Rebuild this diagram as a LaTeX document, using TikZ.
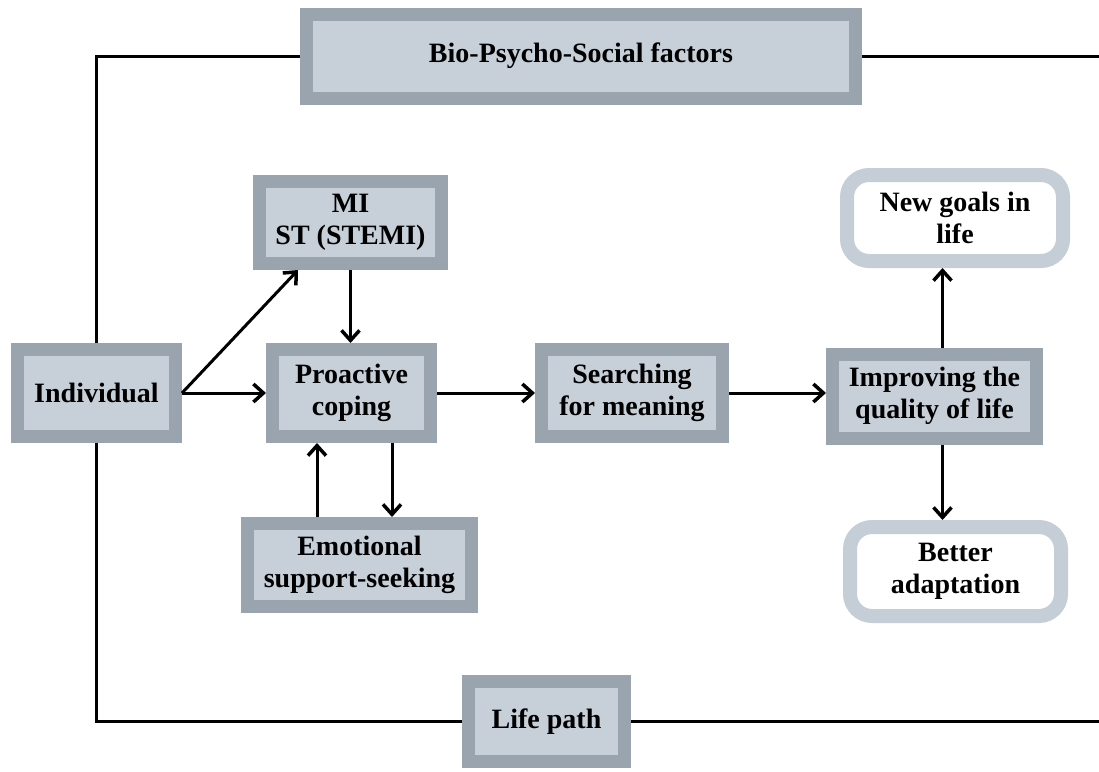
\documentclass[tikz,border=0pt]{standalone}
\usepackage{fontspec}
\setmainfont{Liberation Serif}
\usepackage{xcolor}
\usetikzlibrary{arrows.meta, positioning}
\definecolor{boxline}{HTML}{99A4AE}
\definecolor{boxfill}{HTML}{C7CFD8}
\definecolor{goalline}{HTML}{C5CDD6}

\begin{document}
\begin{tikzpicture}[
    x=1pt, y=1pt,
    box/.style={rectangle, draw=boxline, fill=boxfill, line width=13pt,
      outer sep=6.5pt, align=center, inner sep=0pt,
      font=\fontsize{28}{32}\selectfont\bfseries},
    goal/.style={rectangle, rounded corners=22pt, draw=goalline, fill=white,
      line width=14pt, outer sep=7pt, align=center, inner sep=0pt,
      font=\fontsize{28}{32}\selectfont\bfseries},
    link/.style={line width=3pt},
    arr/.style={link, -{Straight Barb[length=10pt, width=18pt, line width=3.5pt]}}
]
  \useasboundingbox (0,0) rectangle (1099,-771);

  % Boxes placed at their centres
  \node[box, minimum width=549, minimum height=84] (bio) at (581,-56) {Bio-Psycho-Social factors};
  \node[box, minimum width=158, minimum height=87] (indiv) at (96.5,-393) {Individual};
  \node[box, minimum width=182, minimum height=82] (mi) at (350.5,-222.5) {MI\\ST (STEMI)};
  \node[box, minimum width=158, minimum height=87] (proact) at (351.5,-393) {Proactive\\coping};
  \node[box, minimum width=181, minimum height=87] (search) at (632,-393) {Searching\\for meaning};
  \node[box, minimum width=204, minimum height=84] (improve) at (934.5,-396) {Improving the\\quality of life};
  \node[goal, minimum width=216, minimum height=86] (goals) at (955,-218) {New goals in\\life};
  \node[goal, minimum width=211, minimum height=89] (adapt) at (955.5,-571.5) {Better\\adaptation};
  \node[box, minimum width=224, minimum height=83] (emot) at (359.5,-565) {Emotional\\support-seeking};
  \node[box, minimum width=156, minimum height=80] (path) at (546.5,-721.5) {Life path};

  \coordinate (topend) at (1099,-56);
  \coordinate (botend) at (1099,-721.5);

  % Frame lines
  \draw[link] (indiv.north) |- (bio.west);
  \draw[link] (bio.east) -- (topend);
  \draw[link] (indiv.south) |- (path.west);
  \draw[link] (path.east) -- (botend);

  % Main flow
  \draw[arr] (indiv.east) -- ([xshift=45pt]mi.south west);
  \draw[arr] (indiv.east) -- (proact.west);
  \draw[arr] (mi.south) -- (mi.south |- proact.north);
  \draw[arr] (proact.east) -- (search.west);
  \draw[arr] (search.east) -- (search.east -| improve.west);
  \draw[arr] ([xshift=8pt]improve.north) -- ([xshift=8pt]improve.north |- goals.south);
  \draw[arr] ([xshift=8pt]improve.south) -- ([xshift=8pt]improve.south |- adapt.north);

  % Support loop
  \draw[arr] ([xshift=-42.5pt]emot.north) -- ([xshift=-42.5pt]emot.north |- proact.south);
  \draw[arr] ([xshift=32.5pt]emot.north |- proact.south) -- ([xshift=32.5pt]emot.north);
\end{tikzpicture}
\end{document}
